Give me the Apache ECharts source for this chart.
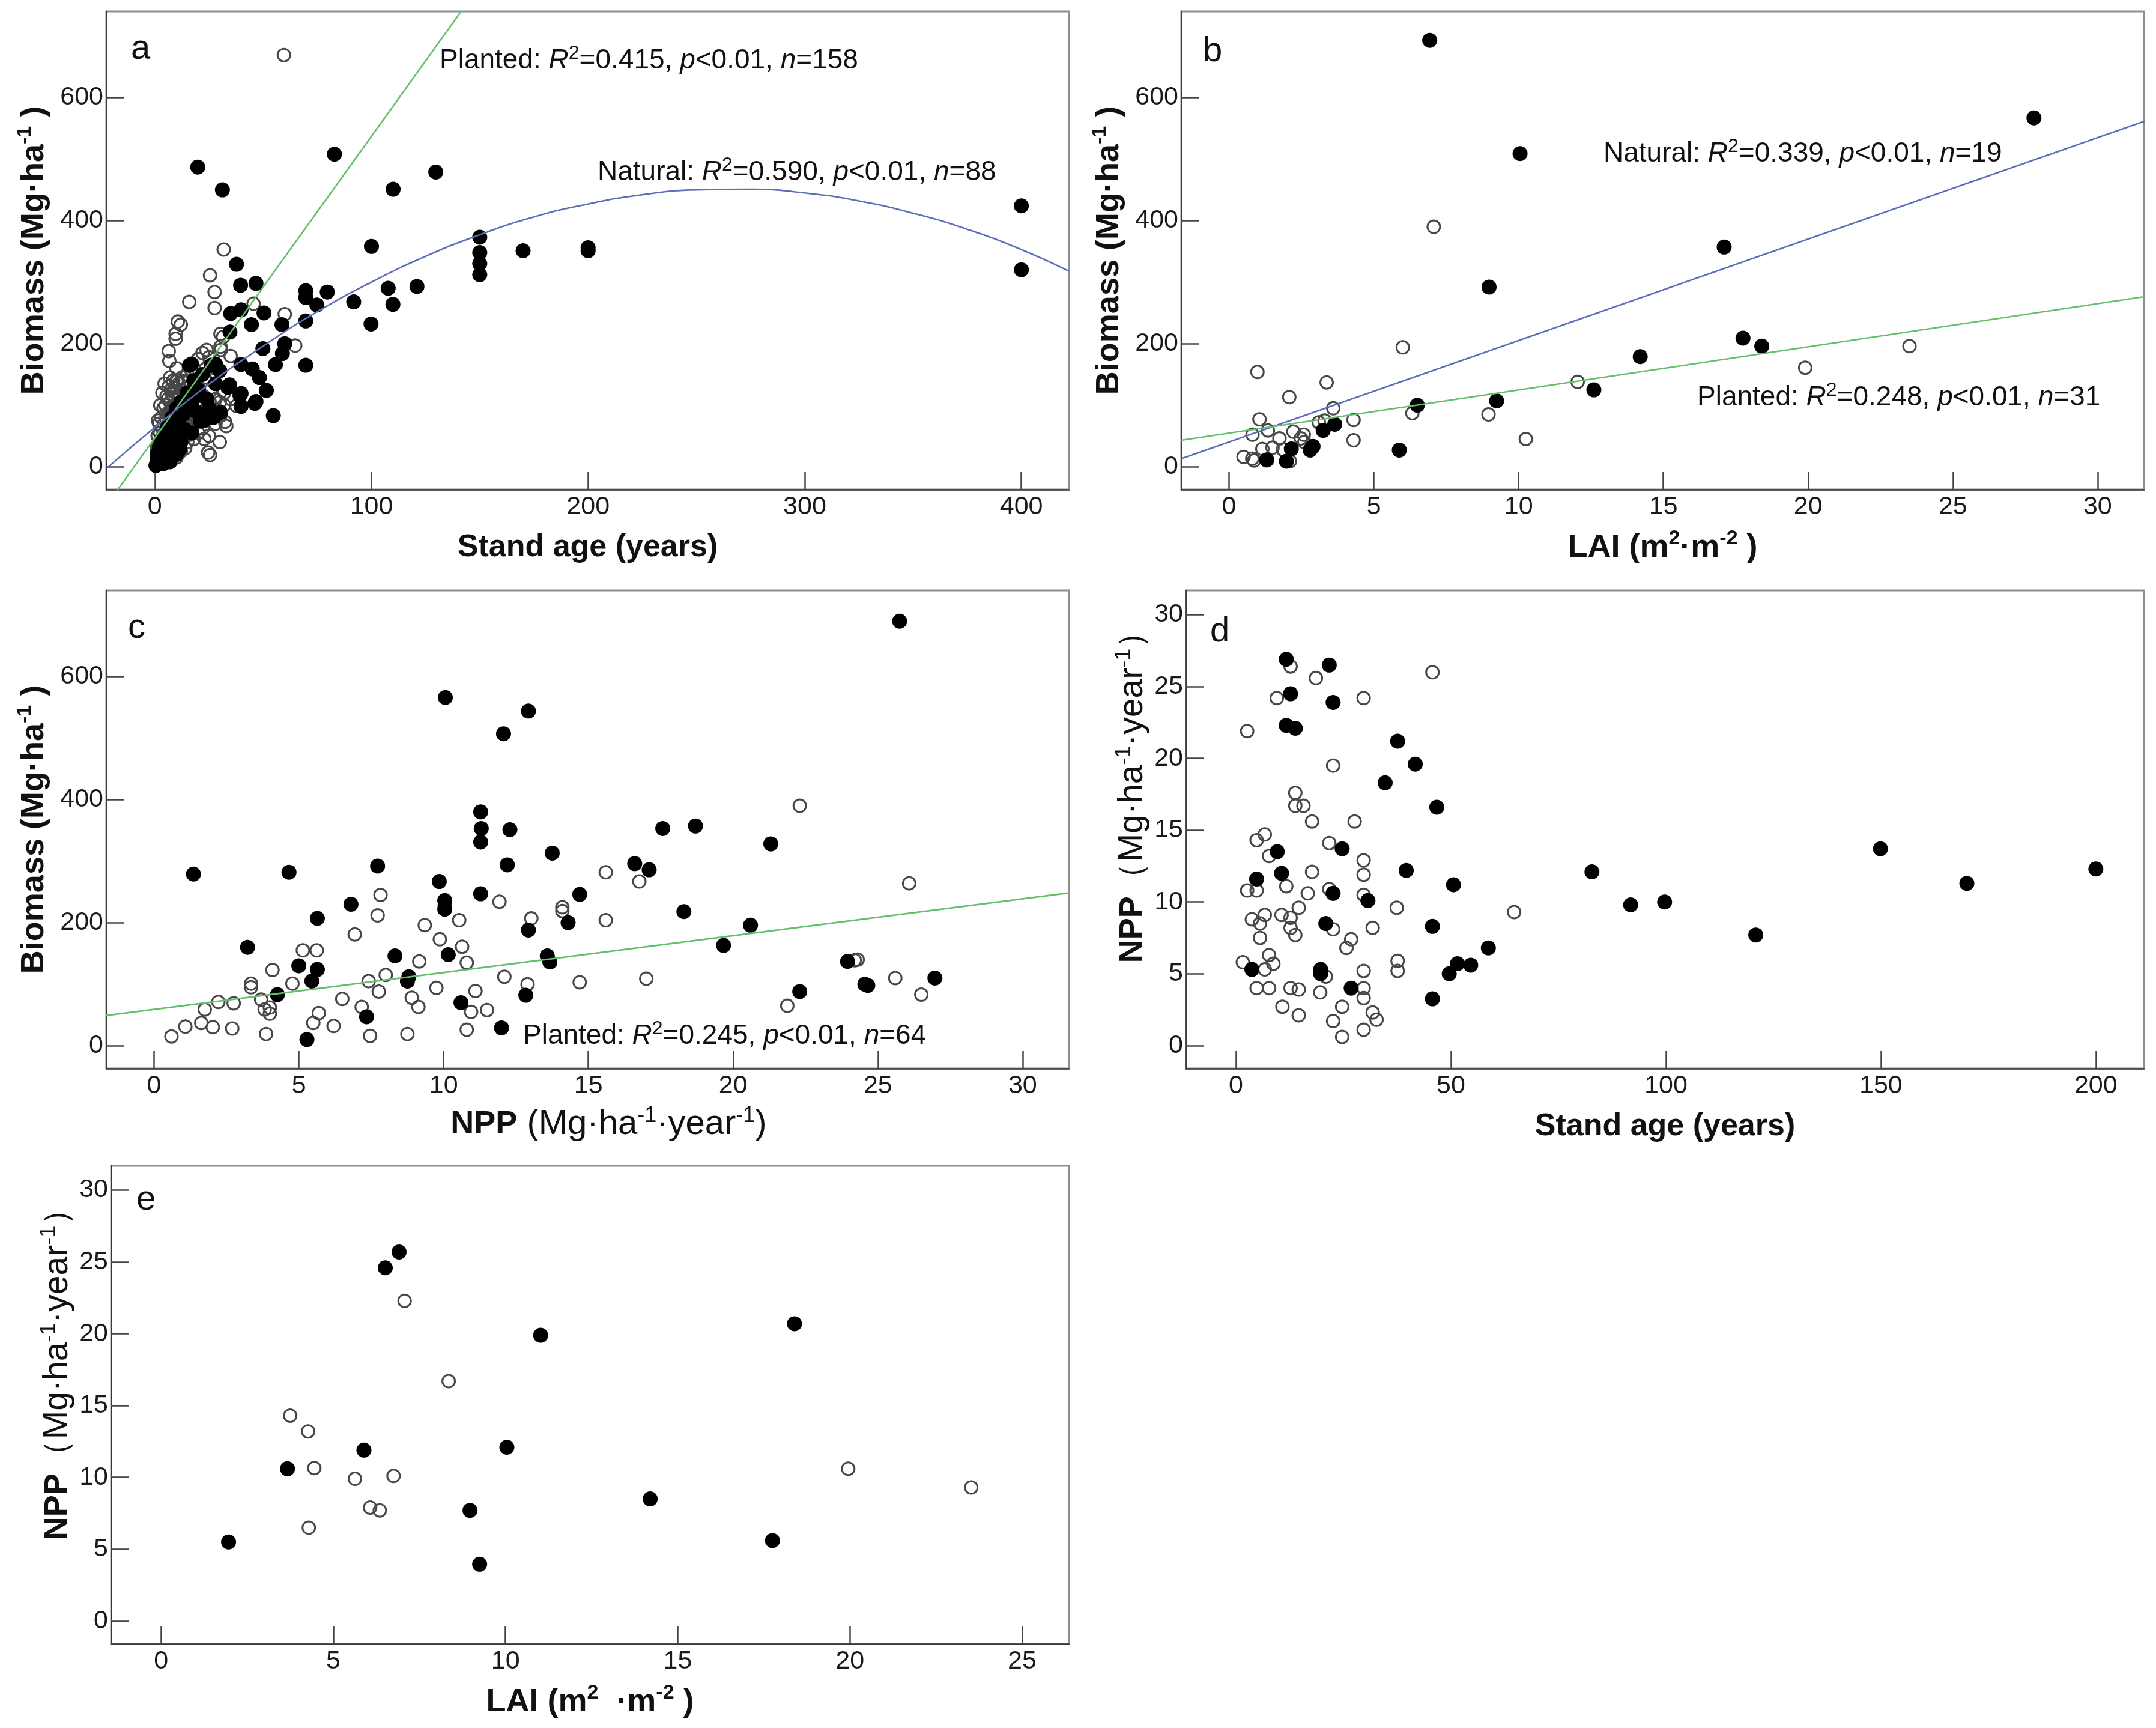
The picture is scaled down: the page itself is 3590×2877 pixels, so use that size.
<!DOCTYPE html>
<html><head><meta charset="utf-8">
<script src="https://cdn.jsdelivr.net/npm/echarts@6/dist/echarts.min.js"></script>
<style>html,body{margin:0;padding:0;background:#fff}#c{width:3590px;height:2877px}</style>
</head><body><div id="c"></div>
<script>
// ---------- tick labels ----------
const ageTicksA = [0, 100, 200, 300, 400];
const biomassTicks = [0, 200, 400, 600];
const laiTicksB = [0, 5, 10, 15, 20, 25, 30];
const nppTicksX = [0, 5, 10, 15, 20, 25, 30];
const ageTicksD = [0, 50, 100, 150, 200];
const nppTicksY = [0, 5, 10, 15, 20, 25, 30];
const laiTicksE = [0, 5, 10, 15, 20, 25];

// ---------- panel a: Biomass vs stand age ----------
const aNatural = [[100,358],[37.7,329],[39.6,295],[46.7,298],[69.7,286],[69.7,275],[79.6,284],[74.8,263],[91.8,268],[107.7,290],[121,293],[109.9,264],[99.8,232],[35,249],[39.8,255],[50.4,250],[44.6,231],[58.7,231],[69.7,237],[34.7,219],[49.9,192],[60,200],[58.9,184],[55.7,166],[69.7,165],[17,167],[28,167],[30,156],[39.8,166],[45,159],[48.3,145],[51.5,124],[34.5,133],[39.8,119],[46.7,106],[39.8,98],[54.7,83],[30.3,88],[22.8,75],[19.8,487],[31.2,450],[82.9,508],[129.7,479],[110,451],[150,373],[150,348],[150,330],[150,312],[170,351],[200,356],[200,351],[400,424],[400,320],
[0.5,2],[1,8],[1,20],[2,5],[2,15],[2,30],[3,10],[3,25],[3,45],[4,5],[4,18],[4,35],[5,12],[5,28],[5,50],[6,20],[6,40],[6,65],[7,8],[7,30],[7,55],[8,25],[8,45],[8,80],[9,35],[9,60],[10,20],[10,50],[10,95],[11,70],[12,40],[12,105],[13,85],[14,60],[15,120],[16,165],[17,100],[18,140],[19,90],[20,125],[21,74],[22,150],[24,110],[26,165],[28,135],[17,55],[11.5,29],[33.7,129],[39.3,116],[46.2,103],[20.8,116],[25,95],[27,80]];
const aPlanted = [[59.6,669],[31.8,353],[25.5,311],[27.6,284],[27.6,258],[15.9,268],[45.6,265],[10.6,236],[12,231],[9.6,208],[9.6,216],[6.4,188],[6.7,172],[30.3,216],[31.5,211],[30.3,195],[23.9,190],[60,248],[64.8,197],[22.8,45],[30,40],[24.6,23],[32.4,73],[33,66],[37.7,99],[13.8,140],[10,140],[25.5,19],[30.3,83],
[1,5],[1,12],[1.2,20],[1,30],[1.3,50],[1.5,75],
[2,8],[2,15],[2.2,25],[2,40],[2.4,55],[2,70],[2.5,100],
[3,10],[3,18],[3.2,30],[3,45],[3.4,62],[3,80],[3.5,120],
[4,6],[4,22],[4.2,35],[4,50],[4.3,70],[4,95],[4.5,135],
[5,12],[5,28],[5.2,42],[5,60],[5.3,78],[5,100],[5.4,115],
[6,18],[6,35],[6.2,52],[6,68],[6.3,88],[6,110],[6.4,130],
[7,10],[7,25],[7.2,45],[7,62],[7.3,85],[7,105],[7.4,125],[7,145],
[8,20],[8,38],[8.2,56],[8,75],[8.3,95],[8,118],[8.5,140],
[9,30],[9,48],[9.2,66],[9,88],[9.3,108],[9,128],
[10,15],[10,40],[10.2,60],[10,80],[10.3,100],[10,120],[10.5,140],[10,160],
[11,35],[11,55],[11.2,72],[11,92],[11.3,115],[11,135],
[12,25],[12,50],[12.2,68],[12,88],[12.3,105],[12,125],[12.5,145],
[13,45],[13,62],[13.2,82],[13,100],[13.3,120],[13,138],
[14,30],[14,58],[14.2,78],[14,96],[14.4,115],
[15,40],[15,65],[15.2,85],[15,110],[15.3,130],[15,150],
[16,52],[16,75],[16.2,95],[16,140],
[17,60],[17,85],[17.3,105],
[18,45],[18,70],[18.2,120],[18,160],
[20,55],[20,80],[20.3,100],[20,130],[20,175],
[22,62],[22,90],[22.4,115],[22,185],
[23,75],[23,145],
[25,50],[25,85],[25.3,105],[25,178],
[26,95],[26,125],
[28,70],[28,110],[28,160],
[30,90],[30,105],[30.5,190],
[32,100],[32,120],
[35,110],[35,180]];
const aPlantedFit = [[-17.5,-39],[141.2,739]];
const aNaturalFit = [[-22,-2],[0,64],[25,134],[50,196],[75,252],[100,300],[125,342],[150,377],[175,406],[200,427],[225,442],[250,450],[275,451],[300,445],[325,432],[350,412],[375,386],[400,353],[422,318]];

// ---------- panel b: Biomass vs LAI ----------
const bNatural = [[6.93,693],[10.05,509],[27.8,567],[17.1,357],[8.98,292],[17.75,209],[18.4,196],[14.2,179],[12.6,125],[9.24,107],[6.5,100],[5.88,27],[3.65,69],[3.25,59],[2.9,33],[2.8,27],[2.15,29],[1.98,9],[1.3,11]];
const bPlanted = [[7.07,390],[6.0,194],[23.5,196],[19.9,161],[12.04,138],[0.98,154],[3.37,137],[2.08,113],[3.6,95],[1.05,77],[4.3,76],[6.33,87],[8.96,85],[10.25,45],[4.3,43],[0.81,52],[1.34,59],[1.74,46],[2.22,57],[2.58,52],[3.3,75],[0.5,16],[0.8,13],[1.15,29],[1.5,31],[0.86,10],[2.1,9],[2.48,46],[1.86,28],[2.6,40],[3.1,72]];
const bNaturalFit = [[-1.65,13],[31.7,563]];
const bPlantedFit = [[-1.65,43],[31.7,277]];

// ---------- panel c: Biomass vs NPP ----------
const cNatural = [[25.75,690],[10.06,566],[12.93,544],[12.07,507],[11.28,380],[11.3,353],[12.29,351],[11.28,331],[17.57,353],[18.7,357],[21.3,328],[13.75,313],[16.6,296],[17.1,286],[12.2,294],[7.72,292],[4.66,282],[1.36,279],[9.85,267],[11.28,247],[14.7,246],[6.8,230],[10.04,236],[10.04,222],[5.64,207],[18.3,218],[14.3,200],[12.93,188],[20.6,196],[19.67,163],[3.23,160],[8.32,146],[10.16,148],[13.58,146],[13.67,136],[5.0,130],[5.64,124],[5.45,105],[8.8,112],[8.75,105],[4.26,83],[10.6,70],[7.34,47],[5.28,10],[12.0,29],[12.84,82],[23.95,137],[24.55,100],[24.65,98],[22.3,88],[26.97,110]];
const cPlanted = [[22.3,390],[26.08,264],[15.6,282],[16.76,267],[7.82,245],[11.93,234],[14.1,225],[14.1,219],[7.72,212],[13.03,207],[15.6,204],[10.54,204],[10.04,228],[9.35,196],[6.93,181],[9.87,173],[10.64,161],[5.14,155],[5.62,155],[9.16,137],[10.8,135],[8.0,115],[4.09,123],[3.35,101],[3.35,95],[4.78,101],[12.1,112],[12.9,100],[14.7,103],[7.41,105],[17.0,109],[24.2,139],[25.6,110],[9.75,94],[11.1,89],[7.76,88],[3.7,75],[6.5,76],[8.9,78],[2.75,69],[2.22,71],[1.75,59],[3.82,59],[4.0,52],[5.69,53],[7.17,63],[9.13,63],[10.95,55],[11.5,58],[21.87,65],[26.5,83],[1.08,31],[0.6,15],[1.63,37],[2.03,30],[2.7,28],[3.87,19],[5.5,37],[6.2,32],[7.46,16],[8.75,19],[10.8,26],[24.3,140],[4.0,62]];
const cPlantedFit = [[-1.67,49],[31.7,249]];

// ---------- panel d: NPP vs stand age ----------
const dNatural = [[11.7,26.9],[21.7,26.5],[12.7,24.5],[22.6,23.9],[11.7,22.3],[13.8,22.1],[37.6,21.2],[41.7,19.6],[34.7,18.3],[46.7,16.6],[149.9,13.7],[24.7,13.7],[9.6,13.5],[39.6,12.2],[82.8,12.1],[200,12.3],[4.8,11.6],[10.6,12.0],[170,11.3],[50.6,11.2],[22.6,10.6],[30.7,10.1],[91.8,9.8],[99.7,10.0],[20.9,8.5],[45.7,8.3],[120.9,7.7],[58.7,6.8],[54.6,5.6],[51.5,5.7],[49.6,5.0],[3.7,5.3],[19.7,5.3],[19.7,5.0],[26.8,4.0],[45.7,3.25]];
const dPlanted = [[45.7,26.0],[12.7,26.4],[18.6,25.6],[9.5,24.2],[29.7,24.2],[2.6,21.9],[22.6,19.5],[13.8,17.6],[13.8,16.7],[15.7,16.7],[17.7,15.6],[27.6,15.6],[6.7,14.7],[4.8,14.3],[7.7,13.2],[21.7,14.1],[29.7,12.9],[17.7,12.1],[29.7,11.9],[11.7,11.1],[2.6,10.8],[4.8,10.8],[21.7,10.9],[29.7,10.5],[16.7,10.6],[14.6,9.6],[37.4,9.6],[64.7,9.3],[6.7,9.1],[3.7,8.8],[10.6,9.1],[12.7,8.9],[5.6,8.5],[12.7,8.2],[31.8,8.2],[22.6,8.1],[13.8,7.7],[26.8,7.4],[5.6,7.5],[25.7,6.8],[7.7,6.3],[8.7,5.7],[6.7,5.3],[1.6,5.8],[37.6,5.9],[37.6,5.2],[29.7,5.2],[20.9,4.8],[4.8,4.0],[7.7,4.0],[12.7,4.0],[14.6,3.9],[29.7,4.0],[19.6,3.7],[10.8,2.7],[29.7,3.3],[24.7,2.7],[14.6,2.1],[31.8,2.3],[32.7,1.8],[22.6,1.7],[29.7,1.1],[24.7,0.6]];

// ---------- panel e: NPP vs LAI ----------
const eNatural = [[6.91,25.7],[6.51,24.6],[11.02,19.9],[18.39,20.7],[5.89,11.9],[10.04,12.1],[3.67,10.6],[8.97,7.7],[14.2,8.5],[1.96,5.5],[17.75,5.6],[9.25,3.95]];
const ePlanted = [[7.07,22.3],[8.35,16.7],[3.75,14.3],[4.27,13.2],[4.45,10.65],[5.63,9.9],[6.75,10.1],[6.07,7.9],[6.35,7.7],[4.29,6.5],[19.95,10.6],[23.52,9.3]];

// ---------- text ----------
const annotations = [
  {label:'Planted', r2:'0.415', n:'158', left:732, cy:101},
  {label:'Natural', r2:'0.590', n:'88', left:995, cy:287},
  {label:'Natural', r2:'0.339', n:'19', left:2670, cy:256},
  {label:'Planted', r2:'0.248', n:'31', left:2826, cy:662},
  {label:'Planted', r2:'0.245', n:'64', left:871, cy:1725}
];
const panelLetters = [['a',218,82],['b',2003,86],['c',213,1046],['d',2015,1052],['e',227,1998]];

// ---------- styling & layout ----------
const FONT = "'Liberation Sans', Arial, sans-serif";
const GREEN = '#62c06a', BLUE = '#5b6eb6';
const grids = [
  {left:177, top:19, width:1603, height:796},
  {left:1967, top:19, width:1603, height:796},
  {left:177, top:983, width:1603, height:796},
  {left:1975, top:983, width:1595, height:796},
  {left:185, top:1941, width:1595, height:796}
].map(g => Object.assign(g, {show:true, borderColor:'#8e8e8e', borderWidth:3, backgroundColor:'#fff'}));

const supRich = {
  b:{fontFamily:FONT, fontSize:54, fontWeight:'bold', color:'#111', lineHeight:64},
  r:{fontFamily:FONT, fontSize:57, fontWeight:'normal', color:'#111', lineHeight:64},
  rc:{fontFamily:FONT, fontSize:58, fontWeight:'normal', color:'#111', lineHeight:64},
  sb:{fontFamily:FONT, fontSize:34, fontWeight:'bold', color:'#111', verticalAlign:'top'},
  sr:{fontFamily:FONT, fontSize:36, fontWeight:'normal', color:'#111', verticalAlign:'top'},
  sp:{fontFamily:FONT, fontSize:20, width:56, color:'rgba(0,0,0,0)'}
};

function axisCommon(ticks){
  return {
    type:'value',
    axisLine:{show:true, onZero:false, lineStyle:{color:'#3a3a3a', width:2.5}},
    axisTick:{show:true, inside:true, length:29, customValues:ticks, lineStyle:{color:'#444', width:2.5}},
    axisLabel:{customValues:ticks, fontFamily:FONT, fontSize:43, color:'#1a1a1a'},
    splitLine:{show:false}
  };
}
function xAxis(gi, min, max, ticks, name, gap, pad){
  const a = axisCommon(ticks);
  a.axisLabel.margin = 8;
  return Object.assign(a, {gridIndex:gi, min, max, name, nameLocation:'middle', nameGap:gap,
    nameTextStyle:{fontFamily:FONT, fontSize:52, fontWeight:'bold', color:'#111', verticalAlign:'middle', rich:supRich, padding:pad||0}});
}
function yAxis(gi, min, max, ticks, name, gap, pad){
  const a = axisCommon(ticks);
  a.axisLabel.margin = 5;
  return Object.assign(a, {gridIndex:gi, min, max, name, nameLocation:'middle', nameGap:gap, nameRotate:90,
    nameTextStyle:{fontFamily:FONT, fontSize:54, fontWeight:'bold', color:'#111', verticalAlign:'middle', align:'center', rich:supRich, padding:pad||0}});
}

const biomassName = '{b|Biomass (Mg·ha}{sb|-1}{b| )}';
const nppNameY = '{sp| }{b|NPP}{r|（Mg·ha}{sr|-1}{r|·year}{sr|-1}{r|）}';
const nppNameX = '{b|NPP}{rc| (Mg·ha}{sr|-1}{rc|·year}{sr|-1}{rc|)}';
const xAxes = [
  xAxis(0, -22.4, 422, ageTicksA, 'Stand age (years)', 97),
  xAxis(1, -1.65, 31.6, laiTicksB, '{b|LAI (m}{sb|2}{b|·m}{sb|-2}{b| )}', 97),
  xAxis(2, -1.65, 31.6, nppTicksX, nppNameX, 93, [0,0,0,70]),
  xAxis(3, -11.6, 211.2, ageTicksD, 'Stand age (years)', 97),
  xAxis(4, -1.45, 26.36, laiTicksE, '{b|LAI (m}{sb|2}{b|  ·m}{sb|-2}{b| )}', 97)
];
const yAxes = [
  yAxis(0, -37, 740, biomassTicks, biomassName, 120),
  yAxis(1, -37, 740, biomassTicks, biomassName, 120),
  yAxis(2, -37, 740, biomassTicks, biomassName, 120),
  yAxis(3, -1.6, 31.7, nppTicksY, nppNameY, 89, [0,0,0,80]),
  yAxis(4, -1.6, 31.7, nppTicksY, nppNameY, 89, [0,0,0,74])
];

function solid(i, data){
  return {type:'scatter', xAxisIndex:i, yAxisIndex:i, data, symbol:'circle', symbolSize:25,
    itemStyle:{color:'#000', opacity:1}, z:3, silent:true};
}
function open(i, data){
  return {type:'scatter', xAxisIndex:i, yAxisIndex:i, data, symbol:'circle', symbolSize:21,
    itemStyle:{color:'rgba(255,255,255,0)', borderColor:'#474747', borderWidth:3, opacity:1}, z:2, silent:true};
}
function fit(i, data, color, smooth){
  return {type:'line', xAxisIndex:i, yAxisIndex:i, data, symbol:'none', showSymbol:false, smooth:smooth||false,
    lineStyle:{color, width:2.6}, z:4, silent:true, clip:true};
}

const series = [
  open(0, aPlanted), solid(0, aNatural), fit(0, aPlantedFit, GREEN), fit(0, aNaturalFit, BLUE, true),
  open(1, bPlanted), solid(1, bNatural), fit(1, bNaturalFit, BLUE), fit(1, bPlantedFit, GREEN),
  open(2, cPlanted), solid(2, cNatural), fit(2, cPlantedFit, GREEN),
  open(3, dPlanted), solid(3, dNatural),
  open(4, ePlanted), solid(4, eNatural)
];

const annRich = {
  n:{fontFamily:FONT, fontSize:46, color:'#111', lineHeight:56},
  i:{fontFamily:FONT, fontSize:46, fontStyle:'italic', color:'#111', lineHeight:56},
  s:{fontFamily:FONT, fontSize:32, color:'#111', verticalAlign:'top'}
};
const titles = annotations.map(a => ({
  text:'{n|' + a.label + ': }{i|R}{s|2}{n|=' + a.r2 + ', }{i|p}{n|<0.01, }{i|n}{n|=' + a.n + '}',
  left:a.left, top:a.cy - 28, padding:0,
  textStyle:{fontWeight:'normal', rich:annRich}
})).concat(panelLetters.map(p => ({
  text:p[0], left:p[1], top:p[2] - 30, padding:0,
  textStyle:{fontFamily:FONT, fontSize:58, fontWeight:'normal', color:'#111', lineHeight:60}
})));

const chart = echarts.init(document.getElementById('c'), null, {renderer:'canvas'});
chart.setOption({
  backgroundColor:'#fff',
  animation:false,
  title:titles,
  grid:grids,
  xAxis:xAxes,
  yAxis:yAxes,
  series
});
</script></body></html>
